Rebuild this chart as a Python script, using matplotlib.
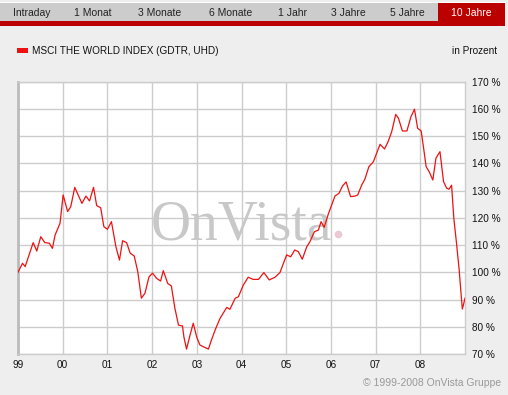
import matplotlib.pyplot as plt
from matplotlib.patches import Rectangle

# MSCI World (GDTR, UHD), in percent of start value, x in decimal years
years = [1999.00, 1999.10, 1999.16, 1999.34, 1999.42, 1999.51, 1999.60, 1999.70, 1999.77, 1999.83,
         1999.94, 2000.01, 2000.11, 2000.18, 2000.27, 2000.43, 2000.52, 2000.60, 2000.69, 2000.76,
         2000.85, 2000.92, 2001.00, 2001.09, 2001.19, 2001.27, 2001.34, 2001.43, 2001.51, 2001.60,
         2001.68, 2001.76, 2001.84, 2001.93, 2002.01, 2002.10, 2002.19, 2002.25, 2002.35, 2002.43,
         2002.51, 2002.59, 2002.68, 2002.71, 2002.77, 2002.85, 2002.92, 2003.00, 2003.07, 2003.18,
         2003.26, 2003.32, 2003.41, 2003.52, 2003.67, 2003.74, 2003.86, 2003.93, 2004.04, 2004.15,
         2004.26, 2004.38, 2004.50, 2004.62, 2004.75, 2004.86, 2005.01, 2005.10, 2005.19, 2005.27,
         2005.36, 2005.46, 2005.53, 2005.63, 2005.72, 2005.78, 2005.85, 2005.94, 2006.03, 2006.09,
         2006.18, 2006.26, 2006.34, 2006.44, 2006.54, 2006.60, 2006.69, 2006.76, 2006.85, 2006.95,
         2007.05, 2007.10, 2007.20, 2007.28, 2007.36, 2007.45, 2007.51, 2007.60, 2007.70, 2007.79,
         2007.87, 2007.94, 2008.02, 2008.09, 2008.13, 2008.20, 2008.28, 2008.35, 2008.44, 2008.52,
         2008.59, 2008.64, 2008.70, 2008.75, 2008.81, 2008.87, 2008.91, 2008.94, 2008.97, 2009.00]
values = [100.0, 103.3, 102.1, 110.9, 107.8, 113.1, 110.9, 110.7, 108.8, 113.7,
          118.0, 128.4, 122.3, 124.1, 131.2, 125.3, 128.0, 126.2, 131.2, 124.5,
          123.7, 116.8, 115.8, 118.6, 109.4, 104.5, 111.6, 110.9, 107.0, 106.0,
          100.2, 90.5, 92.3, 98.3, 99.7, 97.8, 96.8, 100.6, 95.9, 95.0,
          86.8, 80.6, 80.3, 76.4, 71.8, 77.0, 81.3, 76.1, 73.3, 72.4,
          71.8, 74.8, 78.8, 83.1, 87.1, 86.4, 90.5, 91.0, 95.3, 98.2,
          97.4, 97.4, 99.9, 97.2, 98.2, 99.9, 106.4, 105.7, 108.2, 107.6,
          104.8, 109.4, 111.2, 114.9, 115.5, 118.6, 116.5, 121.3, 125.3, 128.0,
          129.0, 131.7, 133.2, 127.8, 128.0, 128.4, 132.1, 134.2, 138.8, 140.6,
          144.9, 147.0, 145.3, 148.0, 151.6, 158.0, 156.6, 151.9, 151.9, 157.1,
          159.9, 152.9, 151.9, 143.7, 138.8, 136.9, 133.9, 141.9, 144.3, 133.3,
          130.9, 130.5, 132.0, 119.8, 110.7, 100.8, 92.5, 86.5, 88.4, 90.5]

tick_years = list(range(1999, 2009))
tick_labels = ['99', '00', '01', '02', '03', '04', '05', '06', '07', '08']
y_ticks = list(range(70, 171, 10))
tabs = ['Intraday', '1 Monat', '3 Monate', '6 Monate', '1 Jahr', '3 Jahre', '5 Jahre', '10 Jahre']
tab_centers = [32, 93, 160, 231, 292, 348, 407, 471]

W, H = 508, 395
BG = '#eeeeee'
GRID = '#cccccc'
RED = '#ee1111'
FONT = 'Liberation Sans'

fig = plt.figure(figsize=(W / 100, H / 100), dpi=100, facecolor=BG)


def fx(px):
    return px / W


def fy(py):
    return 1 - py / H


def rect(x0, y0, x1, y1, color):
    fig.patches.append(Rectangle((fx(x0), fy(y1)), fx(x1) - fx(x0), fy(y0) - fy(y1),
                                 transform=fig.transFigure, facecolor=color,
                                 edgecolor='none', zorder=0))


# tab bar
rect(0, 2, 505, 3.3, 'white')
rect(0, 3.3, 505, 20.7, '#cccccc')
rect(437.7, 3.3, 505, 20.7, '#bb0000')
rect(0, 20.7, 505, 25.7, '#bb0000')
for name, cx in zip(tabs, tab_centers):
    fig.text(fx(cx), fy(12.5), name, ha='center', va='center', fontsize=7.5,
             family=FONT, color='white' if name == '10 Jahre' else '#222222')

# legend row
rect(17, 48.3, 27.5, 53.3, RED)
fig.text(fx(31.5), fy(50.5), 'MSCI THE WORLD INDEX (GDTR, UHD)', ha='left', va='center',
         fontsize=7.2, family=FONT, color='#111111')
fig.text(fx(497), fy(50.5), 'in Prozent', ha='right', va='center',
         fontsize=7.2, family=FONT, color='#111111')

# plot area
left, right, top, bottom = 18, 465, 81.7, 354
ax = fig.add_axes([fx(left), fy(bottom), fx(right) - fx(left), fy(top) - fy(bottom)])
ax.set_facecolor('white')
ax.set_xlim(1999, 2009)
ax.set_ylim(70, 170)

for yv in y_ticks:
    ax.axhline(yv, color=GRID, lw=1.0, zorder=1)
for xv in tick_years:
    ax.axvline(xv, color=GRID, lw=1.0, zorder=1)

# watermark
ax.text(0.5, 0.419, 'OnVista', transform=ax.transAxes, ha='center', va='baseline',
        fontsize=40, family='Liberation Serif', color='#c8c8c8', zorder=2)
ax.plot([0.716], [0.44], transform=ax.transAxes, marker='o', ms=4.5,
        color='#ebc8d2', zorder=2)

ax.plot(years, values, color=RED, lw=0.9, zorder=3)

ax.set_xticks(tick_years)
ax.set_xticklabels(tick_labels)
ax.set_yticks(y_ticks)
ax.set_yticklabels([f'{v} %' for v in y_ticks])
ax.yaxis.tick_right()
ax.tick_params(axis='both', length=0, labelsize=7.2, colors='#111111')
ax.tick_params(axis='x', pad=4)
ax.tick_params(axis='y', pad=5)
for lab in ax.get_xticklabels() + ax.get_yticklabels():
    lab.set_family(FONT)

for side in ['top', 'right', 'bottom']:
    ax.spines[side].set_color(GRID)
    ax.spines[side].set_linewidth(1.0)
ax.spines['left'].set_color('#bbbbbb')
ax.spines['left'].set_linewidth(2.0)

fig.text(fx(501), fy(383), '\u00a9 1999-2008 OnVista Gruppe', ha='right', va='center',
         fontsize=7.5, family=FONT, color='#999999')

fig.savefig('out.png', dpi=100, facecolor=BG)
